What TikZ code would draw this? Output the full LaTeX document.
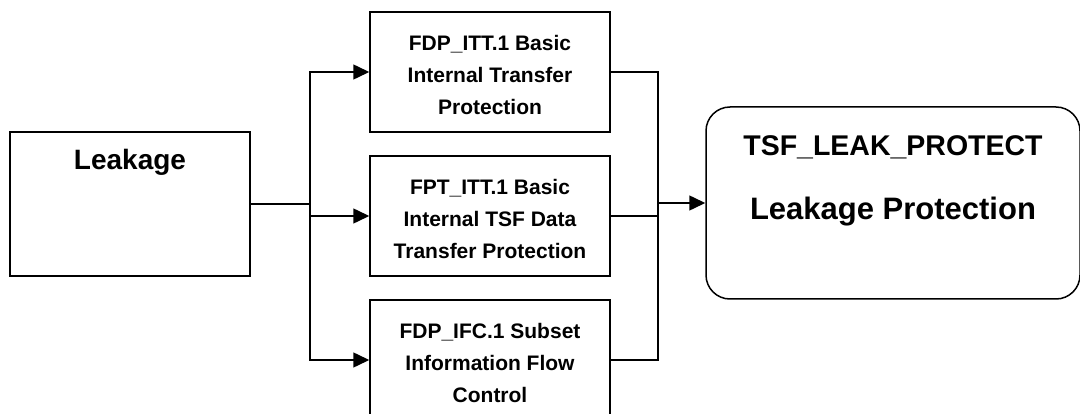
\documentclass[tikz,border=0pt]{standalone}
\usepackage{fontspec}
\setmainfont{Liberation Sans}
\usetikzlibrary{arrows.meta}
\newcommand{\topfix}{\rule{0pt}{21pt}}
\begin{document}
\begin{tikzpicture}[x=1pt,y=-1pt,
  line width=1.5pt,
  box/.style={draw, line width=1.5pt, minimum width=240pt, minimum height=120pt, inner sep=0pt, align=center,
    font=\bfseries\fontsize{21}{32}\selectfont},
  arr/.style={-{Triangle[length=16pt,width=15pt]}},
  big/.style={font=\bfseries\fontsize{28}{34}\selectfont}]
\useasboundingbox (0,0) rectangle (1080,414);
\clip (0,0) rectangle (1080,414);
\node[draw, line width=1.5pt, minimum width=240pt, minimum height=144pt, inner sep=0pt] (leak) at (130,204) {};
\node[big, anchor=center] (leaktxt) at (130,162) {Leakage};
\node[box] (b1) at (490,72) {\topfix FDP\_ITT.1 Basic\\Internal Transfer\\Protection};
\node[box] (b2) at (490,216) {\topfix FPT\_ITT.1 Basic\\Internal TSF Data\\Transfer Protection};
\node[box] (b3) at (490,360) {\topfix FDP\_IFC.1 Subset\\Information Flow\\Control};
\node[draw, line width=1.5pt, rounded corners=24pt, minimum width=374pt, minimum height=192pt, inner sep=0pt] (tsf) at (893,203) {};
\node[font=\bfseries\fontsize{28.5}{34}\selectfont] (tsf1) at (893,147) {TSF\_LEAK\_PROTECT};
\node[font=\bfseries\fontsize{31}{36}\selectfont] (tsf2) at (893,212) {Leakage Protection};
\coordinate (j1) at (310,204);
\coordinate (j2) at (658,203);
\draw (leak.east) -- (j1);
\draw[arr] (j1) |- (b1.west);
\draw[arr] (j1) |- (b3.west);
\draw[arr] (j1 |- b2.west) -- (b2.west);
\draw (b1.east) -| (j2);
\draw (b3.east) -| (j2);
\draw (b2.east) -- (j2 |- b2.east);
\draw[arr] (j2) -- (tsf.west);
\end{tikzpicture}
\end{document}
